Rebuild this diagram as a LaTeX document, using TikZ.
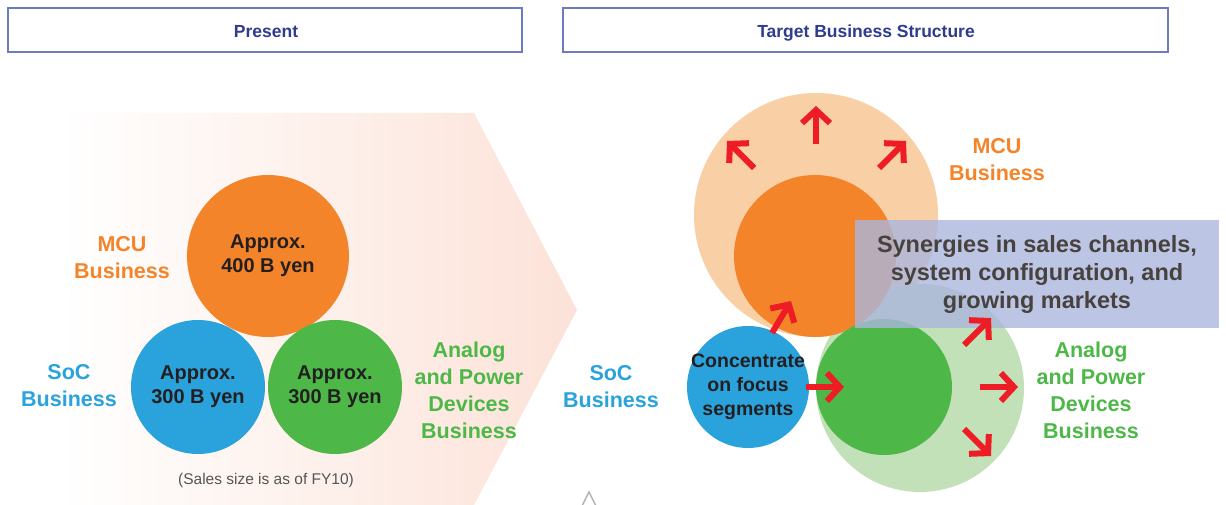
\documentclass[tikz,border=0pt]{standalone}
\usepackage{fontspec}
\setmainfont{Liberation Sans}
\usetikzlibrary{arrows.meta}
\definecolor{cOrange}{HTML}{F4842A}
\definecolor{cLOrange}{HTML}{F9CFA6}
\definecolor{cBlue}{HTML}{2AA3DC}
\definecolor{cGreen}{HTML}{4DB848}
\definecolor{cLGreen}{HTML}{C3E1B9}
\definecolor{cRed}{HTML}{EE1C25}
\definecolor{cHdrBorder}{HTML}{6E7BC4}
\definecolor{cHdrText}{HTML}{2F3B8F}
\definecolor{cPeach}{HTML}{FCE2D8}
\definecolor{cSyn}{HTML}{ABB6DD}
\definecolor{cDark}{HTML}{231F20}
\definecolor{cSynText}{HTML}{48423E}
\definecolor{cNote}{HTML}{555555}
\begin{document}
\begin{tikzpicture}[x=1pt,y=-1pt,
  hdr/.style={draw=cHdrBorder, line width=1.2pt, inner sep=0pt},
  hdrtext/.style={inner sep=0pt, anchor=base, text=cHdrText,
    font=\fontsize{17.5}{20}\selectfont\bfseries},
  disc/.style={circle, inner sep=0pt},
  disctext/.style={align=center, inner sep=0pt, text=cDark,
    font=\fontsize{20}{24}\selectfont\bfseries},
  lbl/.style={align=center, inner sep=0pt, font=\fontsize{21.5}{27}\selectfont\bfseries},
  redarrow/.style={draw=cRed, line width=6pt,
    -{Straight Barb[length=13pt,width=28pt,line width=6pt]}},
]
\useasboundingbox (0,0) rectangle (1226,505);
% headers
\node[hdr, minimum width=514pt, minimum height=44pt] (hpresent) at (265,30) {};
\node[hdr, minimum width=605pt, minimum height=44pt] (htarget) at (865.5,30) {};
\node[hdrtext] (hpresentt) at (266,37.5) {Present};
\node[hdrtext] (htargett) at (866,37.5) {Target Business Structure};
% gradient pentagon arrow
\shade[left color=white, right color=cPeach]
  (60,113) -- (474,113) -- (577,310) -- (474,505) -- (60,505) -- cycle;
% left circles
\node[disc, fill=cOrange, minimum size=162pt] (mcuL) at (268,256) {};
\node[disc, fill=cBlue, minimum size=134pt] (socL) at (198,387) {};
\node[disc, fill=cGreen, minimum size=134pt] (anaL) at (335,387) {};
\node[disctext] (mcuLt) at (mcuL) {Approx.\\400 B yen};
\node[disctext] (socLt) at (socL) {Approx.\\300 B yen};
\node[disctext] (anaLt) at (anaL) {Approx.\\300 B yen};
\node[lbl, text=cOrange] (mcuLl) at (122,258) {MCU\\Business};
\node[lbl, text=cBlue] (socLl) at (69,386) {SoC\\Business};
\node[lbl, text=cGreen] (anaLl) at (469,390) {Analog\\and Power\\Devices\\Business};
\node[inner sep=0pt, text=cNote, font=\fontsize{15.5}{18}\selectfont] (note) at (266,480) {(Sales size is as of FY10)};
% right side
\node[disc, fill=cLOrange, minimum size=244pt] (mcuBig) at (816,215) {};
\node[disc, fill=cLGreen, minimum size=208pt] (anaBig) at (920,388) {};
\node[disc, fill=cOrange, minimum size=162pt] (mcuR) at (815,256) {};
\node[disc, fill=cGreen, minimum size=136pt] (anaR) at (884,387) {};
\node[disc, fill=cBlue, minimum size=122pt] (socR) at (748,387) {};
\node[disctext, font=\fontsize{19.5}{24}\selectfont\bfseries] (socRt) at (socR) {Concentrate\\on focus\\segments};
\node[fill=cSyn, fill opacity=0.8, text opacity=1, minimum width=364pt, minimum height=108pt,
  inner sep=0pt, align=center, text=cSynText, font=\fontsize{23.5}{28}\selectfont\bfseries]
  (syn) at (1037,274) {Synergies in sales channels,\\system configuration, and\\growing markets};
\node[lbl, text=cOrange] (mcuRl) at (997,160) {MCU\\Business};
\node[lbl, text=cBlue] (socRl) at (611,387) {SoC\\Business};
\node[lbl, text=cGreen] (anaRl) at (1091,390) {Analog\\and Power\\Devices\\Business};
% red arrows
\coordinate (a1s) at (816,144); \coordinate (a1e) at (816,106);
\coordinate (a2s) at (754,168); \coordinate (a2e) at (727,141);
\coordinate (a3s) at (879,168); \coordinate (a3e) at (906,141);
\coordinate (a4s) at (772,333); \coordinate (a4e) at (791,301);
\coordinate (a5s) at (806,387); \coordinate (a5e) at (844,387);
\coordinate (a6s) at (980,387); \coordinate (a6e) at (1018,387);
\coordinate (a7s) at (964,345); \coordinate (a7e) at (991,318);
\coordinate (a8s) at (964,429); \coordinate (a8e) at (991,456);
\foreach \i in {1,...,8} {\draw[redarrow] (a\i s) -- (a\i e);}
% small caret at bottom
\coordinate (c1) at (582,506); \coordinate (c2) at (589,492); \coordinate (c3) at (596,506);
\draw[draw=black!30, line width=1.5pt] (c1) -- (c2) -- (c3);
\end{tikzpicture}
\end{document}
